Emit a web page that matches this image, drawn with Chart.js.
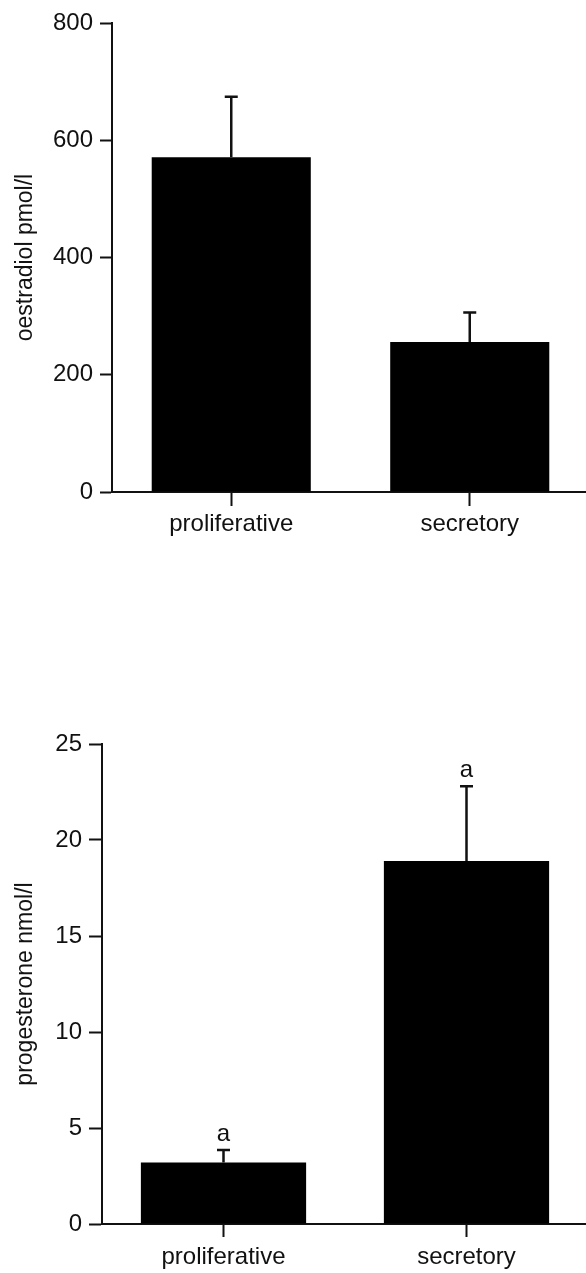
<!DOCTYPE html>
<html>
<head>
<meta charset="utf-8">
<script src="https://cdn.jsdelivr.net/npm/chart.js@4/dist/chart.umd.min.js"></script>
<style>
  html, body { margin: 0; padding: 0; background: #fff; width: 586px; height: 1273px; overflow: hidden; position: relative; }
  canvas { position: absolute; left: 0; }
  #c1 { top: 0; }
  #c2 { top: 700px; }
</style>
</head>
<body>
<canvas id="c1" width="600" height="560"></canvas>
<canvas id="c2" width="600" height="573"></canvas>
<script>
// Cycle phase groups
const categories = ['proliferative', 'secretory'];

// Serum oestradiol (pmol/l): mean and SEM
const oestradiolMean = [571, 256];
const oestradiolSem = [103, 50];
const oestradiolTicks = { min: 0, max: 800, step: 200 };

// Serum progesterone (nmol/l): mean and SEM, with significance letters
const progesteroneMean = [3.2, 18.9];
const progesteroneSem = [0.65, 3.9];
const progesteroneMarks = ['a', 'a'];
const progesteroneTicks = { min: 0, max: 25, step: 5 };

const FONT = "'Liberation Sans', Arial, Helvetica, sans-serif";
const INK = '#111';

// Upward error bars with a short cap, plus optional letters above them
const errorBarPlugin = {
  id: 'errorBars',
  afterDatasetsDraw(chart, args, opts) {
    const ctx = chart.ctx;
    const yScale = chart.scales.y;
    const meta = chart.getDatasetMeta(0);
    const means = chart.data.datasets[0].data;
    ctx.save();
    ctx.strokeStyle = INK;
    ctx.lineWidth = 2.5;
    meta.data.forEach((bar, i) => {
      const yTop = yScale.getPixelForValue(means[i] + opts.sem[i]);
      const x = bar.x;
      ctx.beginPath();
      ctx.moveTo(x, bar.y);
      ctx.lineTo(x, yTop);
      ctx.moveTo(x - 6.5, yTop);
      ctx.lineTo(x + 6.5, yTop);
      ctx.stroke();
      if (opts.marks && opts.marks[i]) {
        ctx.fillStyle = INK;
        ctx.font = '24px ' + FONT;
        ctx.textAlign = 'center';
        ctx.textBaseline = 'alphabetic';
        ctx.fillText(opts.marks[i], x, yTop - 9);
      }
    });
    ctx.restore();
  }
};

function makeChart(id, cfg) {
  return new Chart(document.getElementById(id), {
    type: 'bar',
    data: {
      labels: categories,
      datasets: [{
        data: cfg.mean,
        backgroundColor: '#000',
        borderWidth: 0,
        barPercentage: cfg.barPct,
        categoryPercentage: 1
      }]
    },
    plugins: [errorBarPlugin],
    options: {
      responsive: false,
      animation: false,
      devicePixelRatio: 1,
      layout: { padding: cfg.padding },
      plugins: {
        legend: { display: false },
        tooltip: { enabled: false },
        errorBars: { sem: cfg.sem, marks: cfg.marks }
      },
      scales: {
        x: {
          offset: true,
          afterFit(scale) { scale.height = cfg.xHeight; },
          grid: {
            offset: false,
            drawOnChartArea: false,
            drawTicks: true,
            tickLength: cfg.xTickLen,
            tickWidth: 2,
            tickColor: INK
          },
          border: { display: true, color: INK, width: 2 },
          ticks: {
            color: INK,
            padding: cfg.xLabelPad,
            font: { family: FONT, size: 24 },
            maxRotation: 0
          }
        },
        y: {
          min: cfg.ticks.min,
          max: cfg.ticks.max,
          afterFit(scale) { scale.width = cfg.yWidth; },
          grid: {
            drawOnChartArea: false,
            drawTicks: true,
            tickLength: cfg.yTickLen,
            tickWidth: 2,
            tickColor: INK
          },
          border: { display: true, color: INK, width: 2 },
          ticks: {
            stepSize: cfg.ticks.step,
            color: INK,
            padding: 7,
            font: { family: FONT, size: 24 }
          },
          title: {
            display: true,
            text: cfg.title,
            color: INK,
            padding: { top: cfg.titlePad, bottom: 0 },
            font: { family: FONT, size: 23 }
          }
        }
      }
    }
  });
}

makeChart('c1', {
  mean: oestradiolMean,
  sem: oestradiolSem,
  marks: null,
  ticks: oestradiolTicks,
  title: 'oestradiol pmol/l',
  barPct: 0.667,
  padding: { top: 23, right: 11, bottom: 8, left: 0 },
  xHeight: 60,
  xTickLen: 14,
  xLabelPad: 4,
  yWidth: 112,
  yTickLen: 12,
  titlePad: 12
});

makeChart('c2', {
  mean: progesteroneMean,
  sem: progesteroneSem,
  marks: progesteroneMarks,
  ticks: progesteroneTicks,
  title: 'progesterone nmol/l',
  barPct: 0.68,
  padding: { top: 44, right: 12, bottom: 4, left: 0 },
  xHeight: 45,
  xTickLen: 13,
  xLabelPad: 6,
  yWidth: 102,
  yTickLen: 13,
  titlePad: 12
});
</script>
</body>
</html>
